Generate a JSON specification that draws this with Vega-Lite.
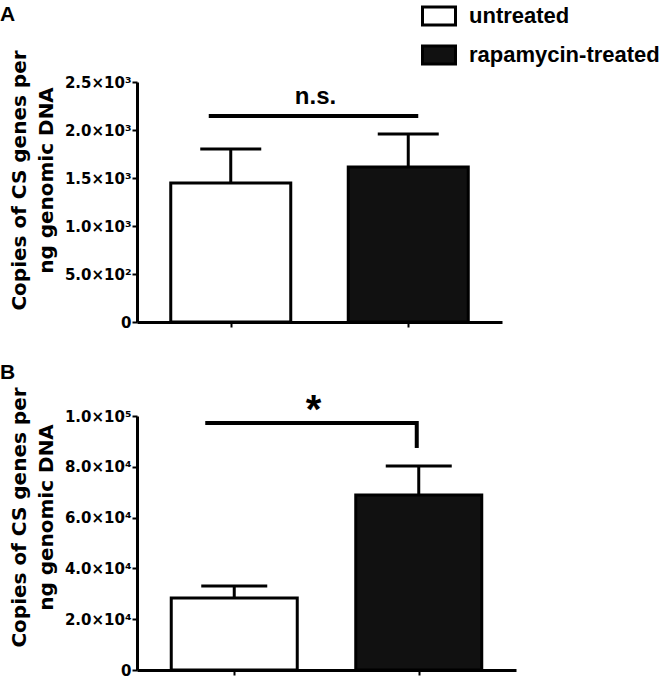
{
  "$schema": "https://vega.github.io/schema/vega-lite/v6.json",
  "background": "white",
  "padding": {"left": 0, "top": -2, "right": 0, "bottom": 0},
  "config": {
    "view": {"stroke": null},
    "font": "Liberation Sans",
    "axis": {
      "domainColor": "black", "domainWidth": 3, "tickColor": "black", "tickWidth": 2, "tickSize": 5,
      "grid": false, "labelColor": "black", "labelFont": "DejaVu Sans", "labelFontWeight": "bold",
      "labelFontSize": 15, "titleColor": "black", "titleFont": "DejaVu Sans", "titleFontWeight": "bold"
    },
    "title": {"font": "Liberation Sans", "fontWeight": "bold", "fontSize": 21, "color": "black", "anchor": "start", "frame": "group"}
  },
  "datasets": {
    "halfHour": [
      {"group": "untreated", "pos": 1, "copies": 1448, "upper": 1802},
      {"group": "rapamycin-treated", "pos": 3, "copies": 1615, "upper": 1958}
    ],
    "fortyEight": [
      {"group": "untreated", "pos": 1, "copies": 28350, "upper": 33070},
      {"group": "rapamycin-treated", "pos": 3, "copies": 68900, "upper": 80300}
    ],
    "sigA": [{"start": 1, "end": 3, "y": 2146, "label": "n.s."}],
    "sigB": [{"start": 1, "end": 3, "y": 97250, "tip": 88200, "label": "*"}]
  },
  "resolve": {"scale": {"fill": "independent"}, "legend": {"fill": "independent"}},
  "spacing": 31,
  "vconcat": [
    {
      "width": 365, "height": 240,
      "title": {"text": "A", "dx": -137, "offset": -27},
      "layer": [
        {
          "data": {"name": "halfHour"},
          "mark": {"type": "bar", "width": 120, "stroke": "black", "strokeWidth": 3},
          "encoding": {
            "x": {"field": "pos", "type": "quantitative", "scale": {"domain": [0, 4], "nice": false},
                  "axis": {"values": [1, 3], "labels": false, "title": null}},
            "y": {"field": "copies", "type": "quantitative", "scale": {"domain": [0, 2500], "nice": false},
                  "axis": {"values": [0, 500, 1000, 1500, 2000, 2500],
                           "labelExpr": "datum.value == 0 ? '0' : format(datum.value / pow(10, floor(log(datum.value)/LN10 + 1e-9)), '.1f') + '×10' + ['⁰','¹','²','³','⁴','⁵','⁶'][floor(log(datum.value)/LN10 + 1e-9)]",
                           "labelPadding": 1,
                           "title": ["Copies of CS genes per", "ng genomic DNA"],
                           "titleFontSize": 20, "titleLineHeight": 27, "titleAngle": -90,
                           "titleBaseline": "middle", "titleAlign": "center", "titleX": -118, "titleY": 98}},
            "fill": {"field": "group", "type": "nominal",
                     "scale": {"domain": ["untreated", "rapamycin-treated"], "range": ["white", "#111111"]},
                     "legend": {"orient": "none", "legendX": 284, "legendY": -84, "title": null,
                                "symbolType": "M-1,-0.55H1V0.55H-1Z", "symbolSize": 1089,
                                "symbolStrokeColor": "black", "symbolStrokeWidth": 3,
                                "labelFont": "Liberation Sans", "labelFontSize": 22, "labelFontWeight": "bold",
                                "labelColor": "black", "labelOffset": 12, "labelLimit": 0, "rowPadding": 5}}
          }
        },
        {
          "data": {"name": "halfHour"},
          "mark": {"type": "rule", "stroke": "black", "strokeWidth": 3},
          "encoding": {"x": {"field": "pos", "type": "quantitative"}, "y": {"field": "copies", "type": "quantitative"}, "y2": {"field": "upper"}}
        },
        {
          "data": {"name": "halfHour"},
          "mark": {"type": "tick", "orient": "horizontal", "size": 61, "thickness": 3, "color": "black", "opacity": 1},
          "encoding": {"x": {"field": "pos", "type": "quantitative"}, "y": {"field": "upper", "type": "quantitative"}}
        },
        {
          "data": {"name": "sigA"},
          "mark": {"type": "rule", "stroke": "black", "strokeWidth": 4, "xOffset": -22, "x2Offset": 10},
          "encoding": {"x": {"field": "start", "type": "quantitative"}, "x2": {"field": "end"}, "y": {"field": "y", "type": "quantitative"}}
        },
        {
          "data": {"name": "sigA"},
          "mark": {"type": "text", "fontSize": 24, "fontWeight": "bold", "baseline": "alphabetic", "dy": -12, "dx": -4, "color": "black"},
          "encoding": {"x": {"datum": 2}, "y": {"field": "y", "type": "quantitative"}, "text": {"field": "label"}}
        },
        {
          "mark": {"type": "text", "fontSize": 22, "fontWeight": "bold", "align": "left", "baseline": "middle", "color": "black"},
          "encoding": {"x": {"datum": 4.58}, "y": {"datum": 1521}, "text": {"value": "1/2 h p.i."}}
        }
      ]
    },
    {
      "width": 379, "height": 254,
      "title": {"text": "B", "dx": -137, "offset": 4},
      "layer": [
        {
          "data": {"name": "fortyEight"},
          "mark": {"type": "bar", "width": 126, "stroke": "black", "strokeWidth": 3},
          "encoding": {
            "x": {"field": "pos", "type": "quantitative", "scale": {"domain": [0, 4], "nice": false},
                  "axis": {"values": [1, 3], "labels": false, "title": null}},
            "y": {"field": "copies", "type": "quantitative", "scale": {"domain": [0, 100000], "nice": false},
                  "axis": {"values": [0, 20000, 40000, 60000, 80000, 100000],
                           "labelExpr": "datum.value == 0 ? '0' : format(datum.value / pow(10, floor(log(datum.value)/LN10 + 1e-9)), '.1f') + '×10' + ['⁰','¹','²','³','⁴','⁵','⁶'][floor(log(datum.value)/LN10 + 1e-9)]",
                           "labelPadding": 1,
                           "title": ["Copies of CS genes per", "ng genomic DNA"],
                           "titleFontSize": 20, "titleLineHeight": 27, "titleAngle": -90,
                           "titleBaseline": "middle", "titleAlign": "center", "titleX": -118, "titleY": 101}},
            "fill": {"field": "group", "type": "nominal",
                     "scale": {"domain": ["untreated", "rapamycin-treated"], "range": ["white", "#111111"]},
                     "legend": null}
          }
        },
        {
          "data": {"name": "fortyEight"},
          "mark": {"type": "rule", "stroke": "black", "strokeWidth": 3},
          "encoding": {"x": {"field": "pos", "type": "quantitative"}, "y": {"field": "copies", "type": "quantitative"}, "y2": {"field": "upper"}}
        },
        {
          "data": {"name": "fortyEight"},
          "mark": {"type": "tick", "orient": "horizontal", "size": 66, "thickness": 3, "color": "black", "opacity": 1},
          "encoding": {"x": {"field": "pos", "type": "quantitative"}, "y": {"field": "upper", "type": "quantitative"}}
        },
        {
          "data": {"name": "sigB"},
          "mark": {"type": "rule", "stroke": "black", "strokeWidth": 4, "xOffset": -29, "x2Offset": -2},
          "encoding": {"x": {"field": "start", "type": "quantitative"}, "x2": {"field": "end"}, "y": {"field": "y", "type": "quantitative"}}
        },
        {
          "data": {"name": "sigB"},
          "mark": {"type": "rule", "stroke": "black", "strokeWidth": 4, "xOffset": -2, "strokeCap": "square"},
          "encoding": {"x": {"field": "end", "type": "quantitative"}, "y": {"field": "y", "type": "quantitative"}, "y2": {"field": "tip"}}
        },
        {
          "data": {"name": "sigB"},
          "mark": {"type": "text", "fontSize": 40, "fontWeight": "bold", "baseline": "alphabetic", "dy": 0, "dx": -13, "color": "black"},
          "encoding": {"x": {"datum": 2}, "y": {"field": "y", "type": "quantitative"}, "text": {"field": "label"}}
        },
        {
          "mark": {"type": "text", "fontSize": 22, "fontWeight": "bold", "align": "left", "baseline": "middle", "color": "black"},
          "encoding": {"x": {"datum": 4.49}, "y": {"datum": 41339}, "text": {"value": "48 h p.i."}}
        }
      ]
    }
  ]
}
